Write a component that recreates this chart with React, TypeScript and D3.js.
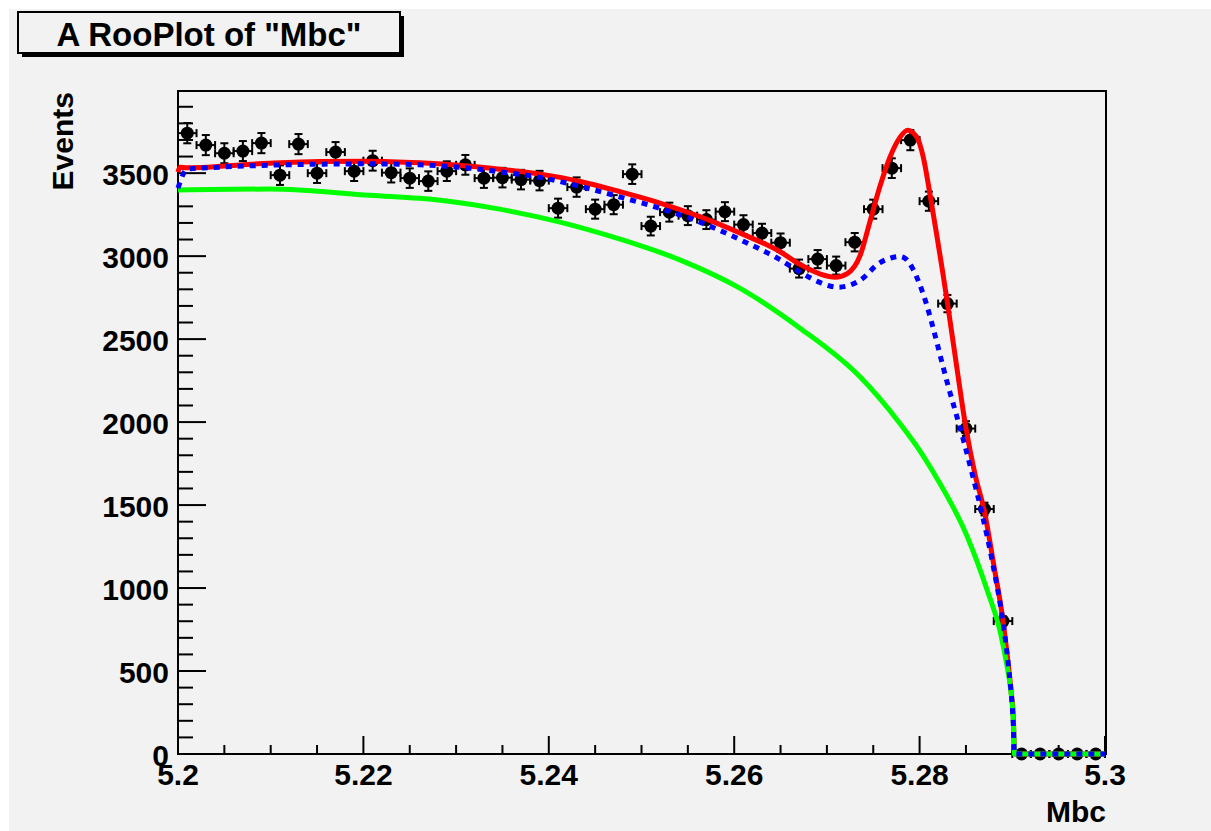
import React from "react";
import * as d3 from "d3";

// ---- data ----
const binCenters = [
  5.201, 5.203, 5.205, 5.207, 5.209, 5.211, 5.213, 5.215, 5.217, 5.219,
  5.221, 5.223, 5.225, 5.227, 5.229, 5.231, 5.233, 5.235, 5.237, 5.239,
  5.241, 5.243, 5.245, 5.247, 5.249, 5.251, 5.253, 5.255, 5.257, 5.259,
  5.261, 5.263, 5.265, 5.267, 5.269, 5.271, 5.273, 5.275, 5.277, 5.279,
  5.281, 5.283, 5.285, 5.287, 5.289, 5.291, 5.293, 5.295, 5.297, 5.299,
];
const events = [
  3741, 3669, 3620, 3633, 3681, 3488, 3675, 3500, 3627, 3512,
  3575, 3503, 3470, 3452, 3512, 3550, 3470, 3473, 3461, 3455,
  3289, 3416, 3283, 3310, 3494, 3181, 3265, 3244, 3220, 3268,
  3190, 3139, 3081, 2925, 2982, 2943, 3084, 3283, 3530, 3699,
  3331, 2714, 1961, 1476, 801, 0, 0, 0, 0, 0,
];
const binHalfWidth = 0.001;

// total model (red)
const totalCurve: [number, number][] = [
  [5.2, 3506], [5.2002, 3536], [5.201, 3532], [5.2099, 3560], [5.2153, 3570],
  [5.2207, 3572], [5.2261, 3562], [5.2315, 3542], [5.2347, 3524], [5.2391, 3494],
  [5.2434, 3450], [5.2477, 3388], [5.252, 3320], [5.2563, 3238], [5.2606, 3140],
  [5.2649, 3028], [5.2671, 2950], [5.2693, 2892], [5.2709, 2873], [5.2722, 2895],
  [5.2736, 3006], [5.2746, 3199], [5.2757, 3416], [5.2768, 3596], [5.2779, 3717],
  [5.2787, 3759], [5.2797, 3717], [5.2804, 3596], [5.2811, 3380], [5.2819, 3110],
  [5.2825, 2900], [5.283, 2718], [5.284, 2335], [5.285, 1964], [5.286, 1680],
  [5.287, 1460], [5.288, 1140], [5.289, 801], [5.2895, 570], [5.2899, 360],
  [5.2901, 240], [5.29025, 0], [5.3, 0],
];
// signal + background component (blue dashed)
const partialCurve: [number, number][] = [
  [5.2, 3410], [5.201, 3524], [5.2045, 3536], [5.2099, 3548], [5.2153, 3554],
  [5.2207, 3556], [5.2261, 3550], [5.2315, 3530], [5.2347, 3508], [5.2391, 3474],
  [5.2434, 3420], [5.2477, 3356], [5.252, 3288], [5.2563, 3205], [5.2606, 3100],
  [5.2649, 2980], [5.2671, 2904], [5.2693, 2840], [5.2712, 2813], [5.2736, 2855],
  [5.2757, 2960], [5.2771, 2992], [5.2778, 2998], [5.2784, 2988], [5.2793, 2920],
  [5.28, 2831], [5.2808, 2700], [5.2813, 2600], [5.282, 2450], [5.2825, 2340],
  [5.2831, 2213], [5.2839, 2057], [5.2847, 1897], [5.2856, 1704], [5.2867, 1456],
  [5.2879, 1144], [5.289, 792], [5.2896, 522], [5.29, 282], [5.2901, 192],
  [5.29022, 0], [5.3, 0],
];
// background (green)
const bkgCurve: [number, number][] = [
  [5.2, 3398], [5.2099, 3404], [5.2207, 3367], [5.2283, 3337], [5.2347, 3283],
  [5.2412, 3205], [5.2477, 3102], [5.2542, 2976], [5.2606, 2807], [5.2671, 2566],
  [5.2736, 2271], [5.2779, 1990], [5.28, 1830], [5.2814, 1705], [5.2851, 1315],
  [5.2873, 985], [5.2887, 735], [5.2894, 540], [5.2898, 400], [5.29, 290],
  [5.2901, 205], [5.29015, 145], [5.29022, 0], [5.3, 0],
];

const xTickLabels = ["5.2", "5.22", "5.24", "5.26", "5.28", "5.3"];
const xMajorTicks = [5.2, 5.22, 5.24, 5.26, 5.28, 5.3];
const yMajorTicks = [0, 500, 1000, 1500, 2000, 2500, 3000, 3500];

const title = 'A RooPlot of "Mbc"';
const xTitle = "Mbc";
const yTitle = "Events";

// ---- layout ----
const W = 1211;
const H = 831;
const plot = { left: 178, right: 1105, top: 91, bottom: 754 };
const FONT = "'Liberation Sans', Arial, Helvetica, sans-serif";

export default function App() {
  const x = d3.scaleLinear().domain([5.2, 5.3]).range([plot.left, plot.right]);
  const y = d3.scaleLinear().domain([0, 3995]).range([plot.bottom, plot.top]);

  const xMinor = x.ticks(20);
  const yMinor = y.ticks(40);
  const isMajorX = (v: number) => xMajorTicks.some((m) => Math.abs(m - v) < 1e-9);
  const isMajorY = (v: number) => yMajorTicks.includes(v);

  const line = d3
    .line<[number, number]>()
    .x((d) => x(d[0]))
    .y((d) => y(d[1]))
    .curve(d3.curveMonotoneX);

  return (
    <svg
      width={W}
      height={H}
      style={{ position: "absolute", left: 0, top: 0, display: "block" }}
      fontFamily={FONT}
    >
      <rect x={0} y={0} width={W} height={H} fill="#ffffff" />
      <rect x={9} y={9} width={W - 9} height={H - 9} fill="#f2f2f2" />

      {/* title box */}
      <rect x={22} y={16} width={382} height={41} fill="#000" />
      <rect x={18} y={12} width={382} height={41} fill="#f2f2f2" stroke="#000" strokeWidth={2} />
      <text x={209} y={46} textAnchor="middle" fontSize={33} fontWeight="bold" fill="#000">
        {title}
      </text>

      {/* frame */}
      <rect
        x={plot.left}
        y={plot.top}
        width={plot.right - plot.left + 1}
        height={plot.bottom - plot.top}
        fill="#f2f2f2"
        stroke="#000"
        strokeWidth={2}
      />

      {/* x ticks */}
      {xMinor.map((v, i) => (
        <line
          key={"xt" + i}
          x1={x(v)}
          x2={x(v)}
          y1={plot.bottom}
          y2={plot.bottom - (isMajorX(v) ? 18 : 9)}
          stroke="#000"
          strokeWidth={2}
        />
      ))}
      {/* y ticks */}
      {yMinor.map((v, i) => (
        <line
          key={"yt" + i}
          x1={plot.left}
          x2={plot.left + (isMajorY(v) ? 28 : 15)}
          y1={y(v)}
          y2={y(v)}
          stroke="#000"
          strokeWidth={2}
        />
      ))}

      {/* tick labels */}
      {xMajorTicks.map((v, i) => (
        <text
          key={"xl" + i}
          x={x(v)}
          y={785}
          textAnchor="middle"
          fontSize={30}
          fontWeight="bold"
          fill="#000"
        >
          {xTickLabels[i]}
        </text>
      ))}
      {yMajorTicks.map((v, i) => (
        <text
          key={"yl" + i}
          x={169}
          y={y(v) + 12}
          textAnchor="end"
          fontSize={30}
          fontWeight="bold"
          fill="#000"
        >
          {v}
        </text>
      ))}

      {/* axis titles */}
      <text x={plot.right + 1} y={822} textAnchor="end" fontSize={30} fontWeight="bold" fill="#000">
        {xTitle}
      </text>
      <text
        transform={`translate(73, ${plot.top + 1}) rotate(-90)`}
        textAnchor="end"
        fontSize={30}
        fontWeight="bold"
        fill="#000"
      >
        {yTitle}
      </text>

      {/* data points */}
      <g stroke="#000" strokeWidth={2} fill="#000">
        {binCenters.map((c, i) => {
          const v = events[i];
          const err = Math.sqrt(v);
          const cx = x(c);
          const cy = y(v);
          const xl = x(c - binHalfWidth);
          const xr = x(c + binHalfWidth);
          const yt = y(v + err);
          const yb = y(Math.max(0, v - err));
          return (
            <g key={"p" + i}>
              <line x1={xl} x2={xr} y1={cy} y2={cy} />
              <line x1={xl} x2={xl} y1={cy - 4} y2={cy + 4} />
              <line x1={xr} x2={xr} y1={cy - 4} y2={cy + 4} />
              {err > 0 && (
                <>
                  <line x1={cx} x2={cx} y1={yt} y2={yb} />
                  <line x1={cx - 4} x2={cx + 4} y1={yt} y2={yt} />
                  <line x1={cx - 4} x2={cx + 4} y1={yb} y2={yb} />
                </>
              )}
              <circle cx={cx} cy={cy} r={6.5} stroke="none" />
            </g>
          );
        })}
      </g>

      {/* model curves */}
      <path d={line(totalCurve) || ""} fill="none" stroke="#ff0000" strokeWidth={5} strokeLinejoin="round" />
      <path d={line(bkgCurve) || ""} fill="none" stroke="#00ff00" strokeWidth={5} strokeLinejoin="round" />
      <path
        d={line(partialCurve) || ""}
        fill="none"
        stroke="#0000ff"
        strokeWidth={5}
        strokeDasharray="6,6"
      />
    </svg>
  );
}
